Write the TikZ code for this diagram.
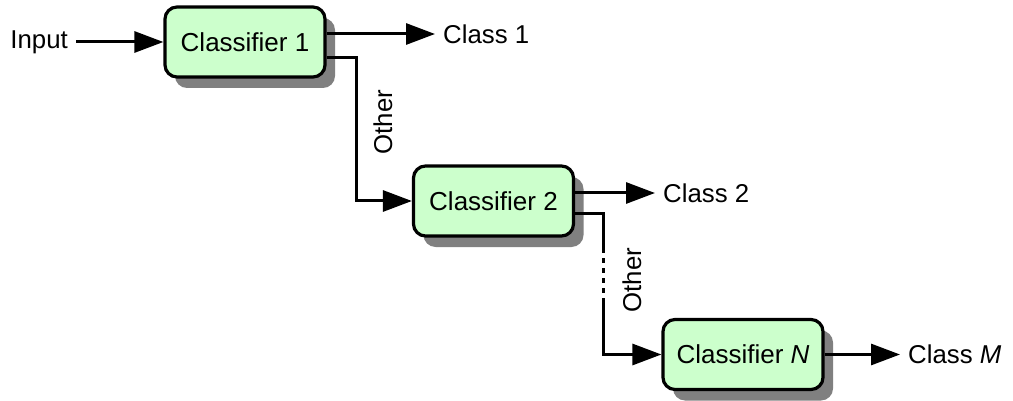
\documentclass[tikz,border=0pt]{standalone}
\usepackage{fontspec}
\setmainfont{Liberation Sans}
\usetikzlibrary{arrows.meta,shadows,calc}
\definecolor{boxgreen}{HTML}{CCFFCC}
\definecolor{shadowgray}{HTML}{808080}
\tikzset{
  clsbox/.style={draw=black, line width=3.2pt, fill=boxgreen, rounded corners=12pt,
    minimum width=160pt, minimum height=70pt, inner sep=0pt,
    font=\fontsize{26pt}{31pt}\selectfont,
    drop shadow={shadow xshift=10pt, shadow yshift=-11pt, fill=shadowgray, opacity=1}},
  lbl/.style={inner sep=8pt, font=\fontsize{25.8pt}{31pt}\selectfont},
  conn/.style={line width=3pt},
  arr/.style={conn, -{Triangle[length=29pt,width=21pt]}},
}
\begin{document}
\begin{tikzpicture}[x=1pt,y=-1pt]
  \useasboundingbox (0,0) rectangle (1013,401);
  % classifier boxes
  \node[clsbox] (c1) at (245,42) {Classifier 1};
  \node[clsbox] (c2) at (493.5,201) {Classifier 2};
  \node[clsbox] (cn) at (743,354.5) {Classifier \textit{N}};
  % input and output labels
  \node[lbl, anchor=east] (in) at (76,42) {Input};
  \node[lbl, anchor=west] (k1) at (435,34) {Class 1};
  \node[lbl, anchor=west] (k2) at (655,193) {Class 2};
  \node[lbl, anchor=west] (km) at (900,354.5) {Class \textit{M}};
  % rotated "Other" labels
  \node[lbl, inner sep=0pt, rotate=90] (o1) at (383,122) {Other};
  \node[lbl, inner sep=0pt, rotate=90] (o2) at (632,280) {Other};
  % helper points on the second "Other" path
  \coordinate (v1) at (603,214);
  \coordinate (d1) at (603,248);
  \coordinate (d2) at (603,302);
  % connectors
  \draw[arr] (in.east) -- (c1.west);
  \draw[arr] ([yshift=8pt]c1.east) -- (k1.west);
  \draw[arr] ([yshift=-16pt]c1.east) -- ++(30pt,0) |- (c2.west);
  \draw[arr] ([yshift=8pt]c2.east) -- (k2.west);
  \draw[conn] ([yshift=-13pt]c2.east) -- (v1) -- (d1);
  \draw[conn, dash pattern=on 5pt off 5pt] (d1) -- (d2);
  \draw[arr] (d2) |- (cn.west);
  \draw[arr] (cn.east) -- (km.west);
\end{tikzpicture}
\end{document}
